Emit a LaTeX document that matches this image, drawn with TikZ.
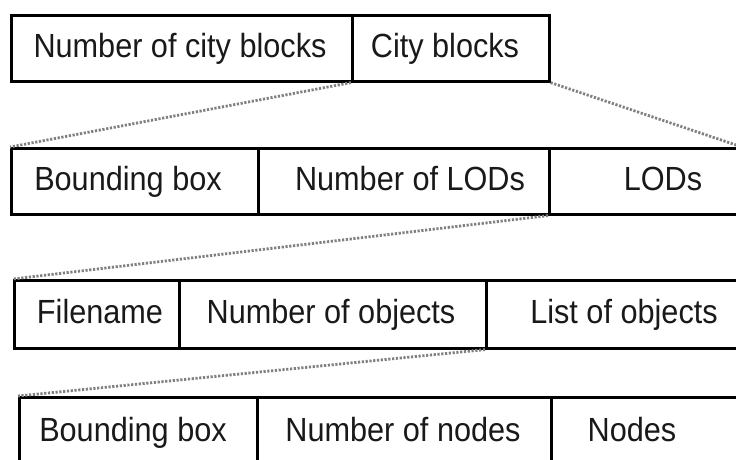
\documentclass[tikz,border=0pt]{standalone}
\usepackage{fontspec}
\setmainfont[FakeStretch=0.915]{Liberation Sans}
\begin{document}
\begin{tikzpicture}[x=1pt,y=-1pt,
  cell/.style={draw=black, line width=2.6pt, rectangle, inner sep=0pt, anchor=north west},
  lbl/.style={inner sep=0pt, anchor=base, font=\fontsize{33.5}{40}\selectfont, text=black!90},
  link/.style={draw=black!50, line width=2.8pt, dash pattern=on 2.2pt off 1.6pt}]
\useasboundingbox (0,0) rectangle (736,459);
\clip (0,0) rectangle (736,459);
% Row 1
\node[cell, minimum width=341pt, minimum height=66pt] (a1) at (10,14) {};
\node[cell, minimum width=197pt, minimum height=66pt] (a2) at (351,14) {};
\node[lbl] (ta1) at (180,57) {Number of city blocks};
\node[lbl] (ta2) at (445,57) {City blocks};
% Row 2
\node[cell, minimum width=247pt, minimum height=66pt] (b1) at (10,147) {};
\node[cell, minimum width=291pt, minimum height=66pt] (b2) at (257,147) {};
\node[cell, minimum width=240pt, minimum height=66pt] (b3) at (548,147) {};
\node[lbl] (tb1) at (128,190) {Bounding box};
\node[lbl] (tb2) at (410,190) {Number of LODs};
\node[lbl] (tb3) at (663,190) {LODs};
% Row 3
\node[cell, minimum width=165pt, minimum height=68pt] (c1) at (13,279) {};
\node[cell, minimum width=307pt, minimum height=68pt] (c2) at (178,279) {};
\node[cell, minimum width=300pt, minimum height=68pt] (c3) at (485,279) {};
\node[lbl] (tc1) at (100,323) {Filename};
\node[lbl] (tc2) at (331,323) {Number of objects};
\node[lbl] (tc3) at (624,323) {List of objects};
% Row 4
\node[cell, minimum width=238pt, minimum height=90pt] (d1) at (18,396) {};
\node[cell, minimum width=294pt, minimum height=90pt] (d2) at (256,396) {};
\node[cell, minimum width=250pt, minimum height=90pt] (d3) at (550,396) {};
\node[lbl] (td1) at (133,441) {Bounding box};
\node[lbl] (td2) at (403,441) {Number of nodes};
\node[lbl] (td3) at (632,441) {Nodes};
% Links
\coordinate (rend) at (745,148);
\draw[link] (a2.south west) -- (b1.north west);
\draw[link] (a2.south east) -- (rend);
\draw[link] (b3.south west) -- (c1.north west);
\draw[link] (c3.south west) -- (d1.north west);
\end{tikzpicture}
\end{document}
